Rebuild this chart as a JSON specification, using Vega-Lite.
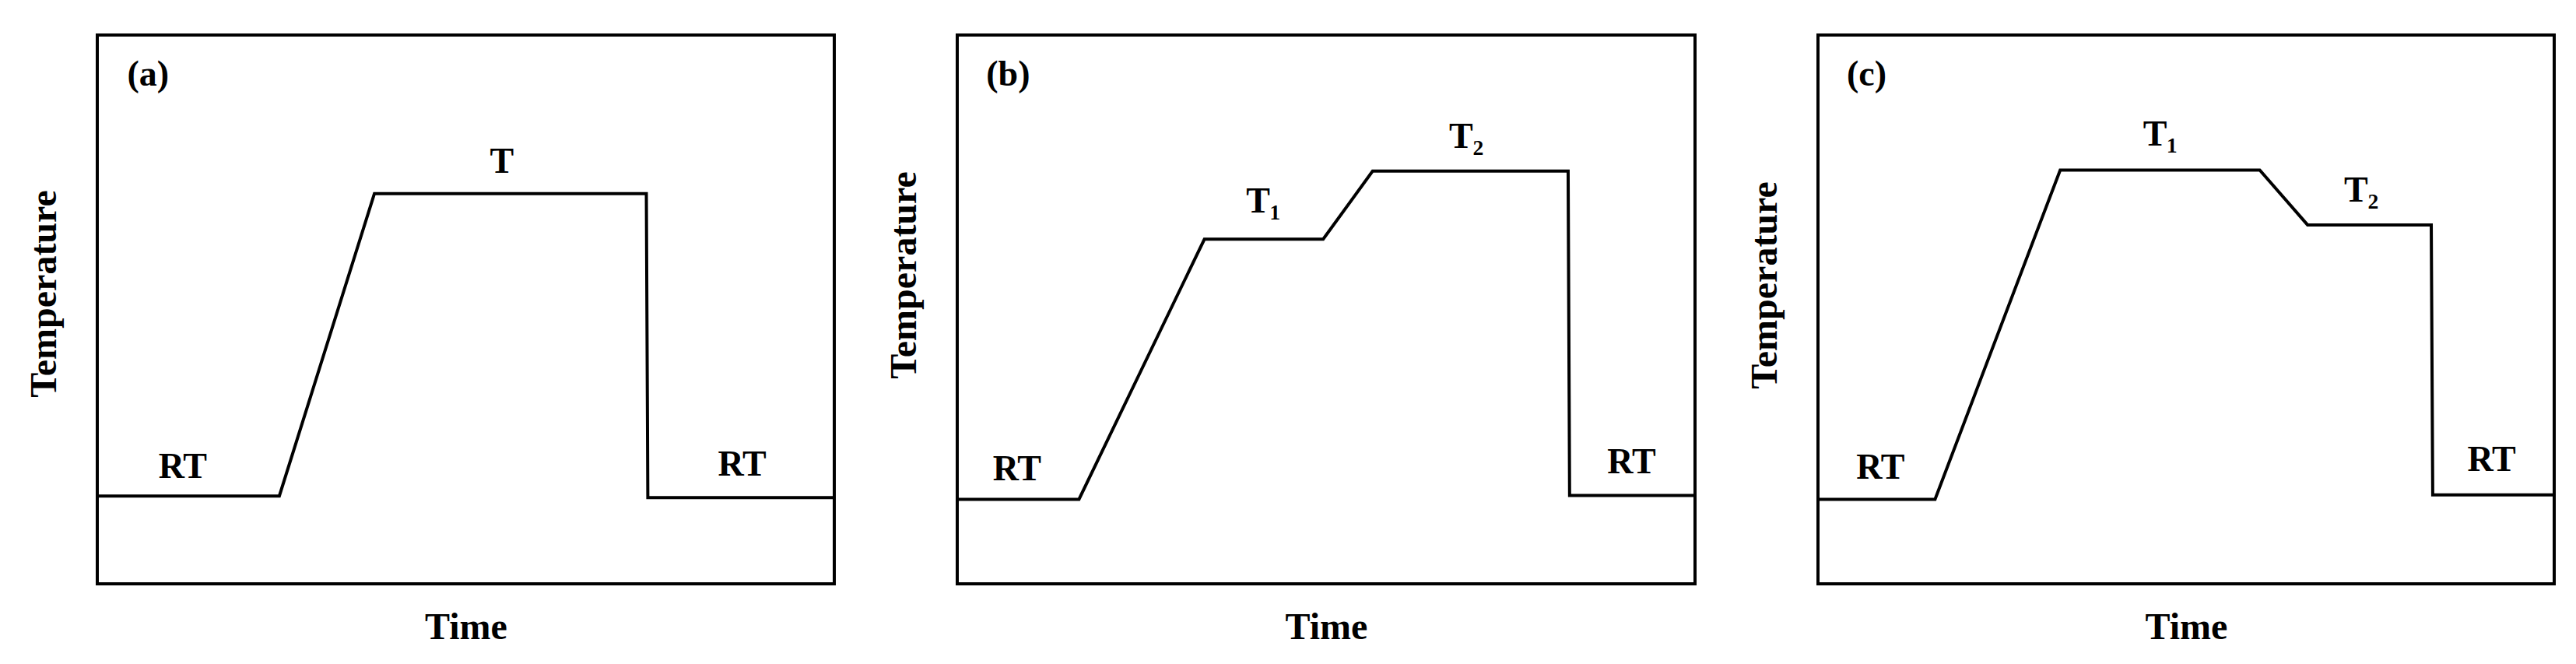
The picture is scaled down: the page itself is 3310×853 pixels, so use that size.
{
  "$schema": "https://vega.github.io/schema/vega-lite/v6.json",
  "background": "white",
  "padding": {"left": 31, "top": 43, "right": 0, "bottom": 0},
  "spacing": 158,
  "bounds": "flush",
  "datasets": {
    "lines": [
      {"panel": "a", "i": 1, "time": 0, "temp": 16},
      {"panel": "a", "i": 2, "time": 24.7, "temp": 16},
      {"panel": "a", "i": 3, "time": 37.6, "temp": 71.1},
      {"panel": "a", "i": 4, "time": 74.5, "temp": 71.1},
      {"panel": "a", "i": 5, "time": 74.7, "temp": 15.7},
      {"panel": "a", "i": 6, "time": 100, "temp": 15.7},
      {"panel": "b", "i": 1, "time": 0, "temp": 15.4},
      {"panel": "b", "i": 2, "time": 16.5, "temp": 15.4},
      {"panel": "b", "i": 3, "time": 33.5, "temp": 62.8},
      {"panel": "b", "i": 4, "time": 49.6, "temp": 62.8},
      {"panel": "b", "i": 5, "time": 56.3, "temp": 75.2},
      {"panel": "b", "i": 6, "time": 82.8, "temp": 75.2},
      {"panel": "b", "i": 7, "time": 83.0, "temp": 16.1},
      {"panel": "b", "i": 8, "time": 100, "temp": 16.1},
      {"panel": "c", "i": 1, "time": 0, "temp": 15.4},
      {"panel": "c", "i": 2, "time": 15.9, "temp": 15.4},
      {"panel": "c", "i": 3, "time": 32.9, "temp": 75.4},
      {"panel": "c", "i": 4, "time": 60.0, "temp": 75.4},
      {"panel": "c", "i": 5, "time": 66.5, "temp": 65.4},
      {"panel": "c", "i": 6, "time": 83.3, "temp": 65.4},
      {"panel": "c", "i": 7, "time": 83.5, "temp": 16.2},
      {"panel": "c", "i": 8, "time": 100, "temp": 16.2}
    ],
    "labels": [
      {"panel": "a", "label": "(a)", "time": 6.9, "temp": 90.8},
      {"panel": "a", "label": "T", "time": 54.9, "temp": 74.9},
      {"panel": "a", "label": "RT", "time": 11.6, "temp": 19.3},
      {"panel": "a", "label": "RT", "time": 87.5, "temp": 19.7},
      {"panel": "b", "label": "(b)", "time": 6.9, "temp": 90.8},
      {"panel": "b", "label": "T₁", "time": 41.5, "temp": 67.6},
      {"panel": "b", "label": "T₂", "time": 69.0, "temp": 79.5},
      {"panel": "b", "label": "RT", "time": 8.1, "temp": 18.9},
      {"panel": "b", "label": "RT", "time": 91.4, "temp": 20.1},
      {"panel": "c", "label": "(c)", "time": 6.6, "temp": 90.8},
      {"panel": "c", "label": "T₁", "time": 46.5, "temp": 79.9},
      {"panel": "c", "label": "T₂", "time": 73.8, "temp": 69.7},
      {"panel": "c", "label": "RT", "time": 8.5, "temp": 19.1},
      {"panel": "c", "label": "RT", "time": 91.5, "temp": 20.6}
    ]
  },
  "config": {
    "view": {"stroke": "black", "strokeWidth": 4},
    "axis": {
      "labels": false, "ticks": false, "domain": false, "grid": false,
      "titleFont": "Liberation Serif", "titleFontSize": 48, "titleFontWeight": "bold", "titleColor": "black"
    },
    "axisX": {"titlePadding": 32},
    "axisY": {"titlePadding": 44},
    "text": {"font": "Liberation Serif", "fontSize": 46, "fontWeight": "bold", "color": "black", "align": "center", "baseline": "alphabetic"},
    "line": {"color": "black", "strokeWidth": 4}
  },
  "hconcat": [
    {
      "width": 947, "height": 705,
      "layer": [
        {"data": {"name": "lines"}, "transform": [{"filter": "datum.panel === 'a'"}], "mark": "line",
         "encoding": {"x": {"field": "time", "type": "quantitative", "scale": {"domain": [0, 100]}, "title": "Time"},
                      "y": {"field": "temp", "type": "quantitative", "scale": {"domain": [0, 100]}, "title": "Temperature", "axis": {"titleY": 332}},
                      "order": {"field": "i"}}},
        {"data": {"name": "labels"}, "transform": [{"filter": "datum.panel === 'a'"}], "mark": "text",
         "encoding": {"x": {"field": "time", "type": "quantitative"}, "y": {"field": "temp", "type": "quantitative"}, "text": {"field": "label"}}}
      ]
    },
    {
      "width": 948, "height": 705,
      "layer": [
        {"data": {"name": "lines"}, "transform": [{"filter": "datum.panel === 'b'"}], "mark": "line",
         "encoding": {"x": {"field": "time", "type": "quantitative", "scale": {"domain": [0, 100]}, "title": "Time"},
                      "y": {"field": "temp", "type": "quantitative", "scale": {"domain": [0, 100]}, "title": "Temperature", "axis": {"titleY": 308}},
                      "order": {"field": "i"}}},
        {"data": {"name": "labels"}, "transform": [{"filter": "datum.panel === 'b'"}], "mark": "text",
         "encoding": {"x": {"field": "time", "type": "quantitative"}, "y": {"field": "temp", "type": "quantitative"}, "text": {"field": "label"}}}
      ]
    },
    {
      "width": 946, "height": 705,
      "layer": [
        {"data": {"name": "lines"}, "transform": [{"filter": "datum.panel === 'c'"}], "mark": "line",
         "encoding": {"x": {"field": "time", "type": "quantitative", "scale": {"domain": [0, 100]}, "title": "Time"},
                      "y": {"field": "temp", "type": "quantitative", "scale": {"domain": [0, 100]}, "title": "Temperature", "axis": {"titleY": 321}},
                      "order": {"field": "i"}}},
        {"data": {"name": "labels"}, "transform": [{"filter": "datum.panel === 'c'"}], "mark": "text",
         "encoding": {"x": {"field": "time", "type": "quantitative"}, "y": {"field": "temp", "type": "quantitative"}, "text": {"field": "label"}}}
      ]
    }
  ]
}
